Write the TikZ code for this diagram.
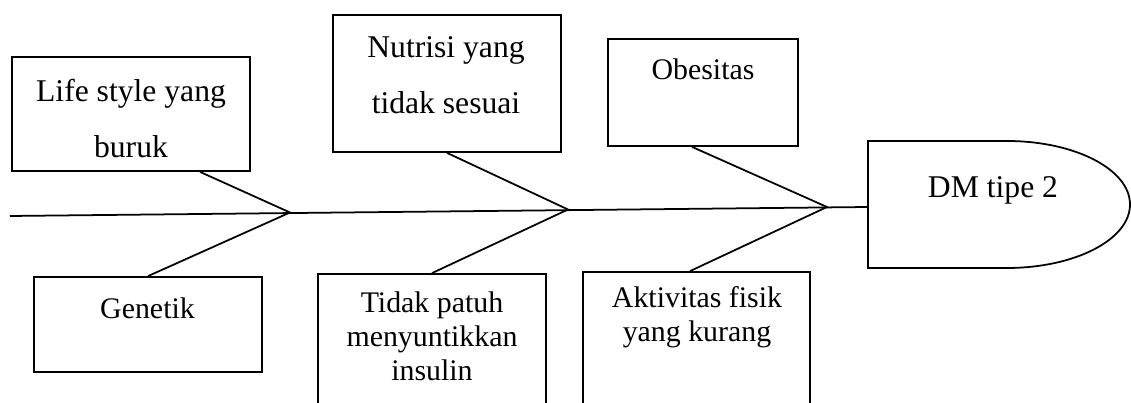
\documentclass[tikz,border=0pt]{standalone}
\usepackage{fontspec}
\setmainfont{Liberation Serif}
\usetikzlibrary{positioning,calc}

\begin{document}
\begin{tikzpicture}[line width=1pt,
  causebox/.style={draw,inner sep=0pt,minimum width=4.56cm},
  causetxt/.style={align=center,inner sep=0pt,font=\fontsize{17}{32}\selectfont},
  bigtxt/.style={causetxt,font=\fontsize{18}{32}\selectfont},
  tighttxt/.style={causetxt,font=\fontsize{17}{19.5}\selectfont}]
\useasboundingbox (0,0) rectangle (22.62,8.06);
\clip (0,0) rectangle (22.62,8.06);

% effect head
\draw (17.36,5.24) -- (20.14,5.24)
  arc[start angle=90,end angle=-90,x radius=2.46,y radius=1.27]
  -- (17.36,2.70) -- cycle;
\node[bigtxt] (dm) at (19.86,4.26) {DM tipe 2};

% spine and joints
\coordinate (tail) at (0.20,3.74);
\coordinate (head) at (17.36,3.92);
\coordinate (j1) at (5.80,3.81);
\coordinate (j2) at (11.36,3.87);
\coordinate (j3) at (16.54,3.92);
\draw (tail) -- (head);

% upper causes
\node[causebox,minimum width=4.76cm,minimum height=2.28cm] (life) at (2.62,5.78) {};
\node[bigtxt] (life-t) at (2.62,5.69) {Life style yang\\buruk};
\node[causebox,minimum height=2.74cm] (nutri) at (8.94,6.39) {};
\node[bigtxt] (nutri-t) at (8.92,6.55) {Nutrisi yang\\tidak sesuai};
\node[causebox,minimum width=3.80cm,minimum height=2.14cm] (obes) at (14.06,6.21) {};
\node[causetxt] (obes-t) at (14.06,6.68) {Obesitas};

% lower causes
\node[causebox,minimum height=1.90cm] (gen) at (2.96,1.57) {};
\node[causetxt] (gen-t) at (2.95,1.90) {Genetik};
\node[causebox,minimum height=3.12cm] (tidak) at (8.64,1.02) {};
\node[tighttxt] (tidak-t) at (8.64,1.33) {Tidak patuh\\menyuntikkan\\insulin};
\node[causebox,minimum width=4.54cm,minimum height=3.16cm] (aktiv) at (13.93,1.04) {};
\node[tighttxt] (aktiv-t) at (13.94,1.71) {Aktivitas fisik\\yang kurang};

% bones
\draw ([xshift=1.38cm]life.south) -- (j1) -- (gen.north);
\draw (nutri.south) -- (j2) -- (tidak.north);
\draw ([xshift=-0.22cm]obes.south) -- (j3) -- ([xshift=-0.13cm]aktiv.north);
\end{tikzpicture}
\end{document}
